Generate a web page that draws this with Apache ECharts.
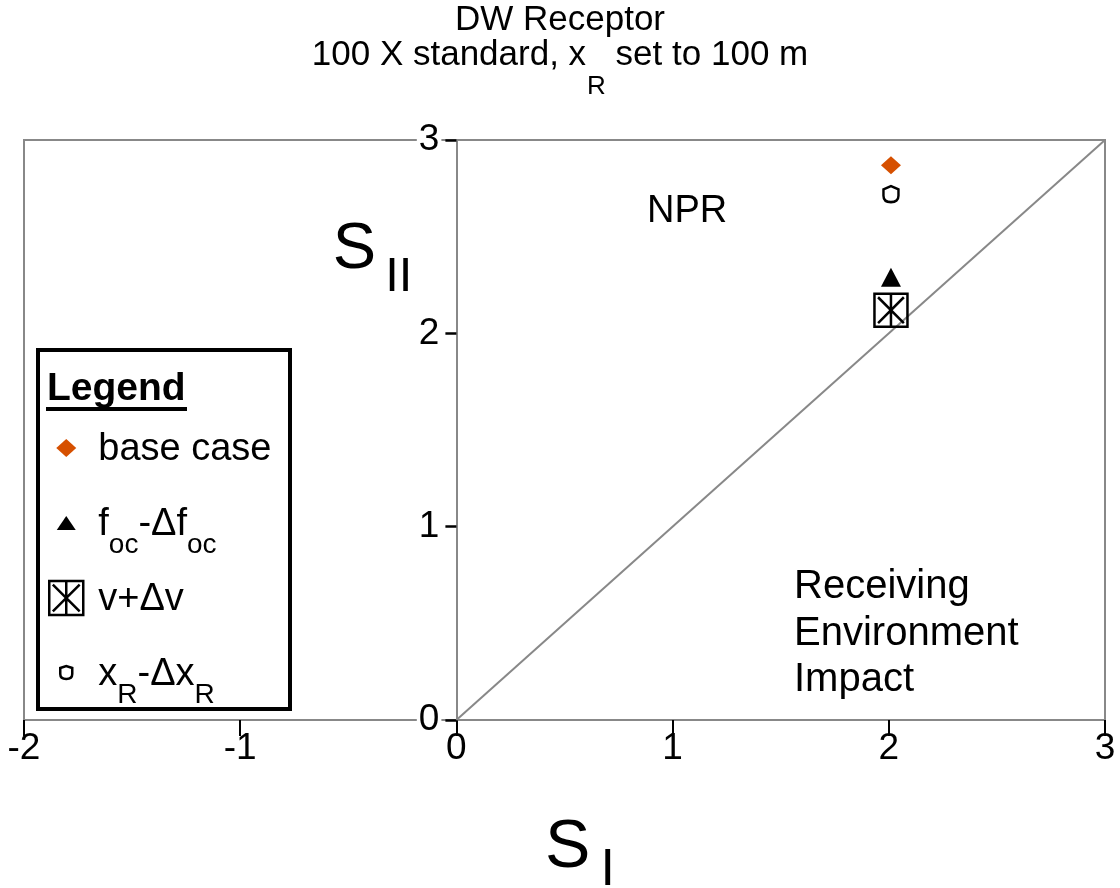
<!DOCTYPE html>
<html><head><meta charset="utf-8">
<script src="https://cdn.jsdelivr.net/npm/echarts@6/dist/echarts.min.js"></script>
<style>html,body{margin:0;padding:0;background:#fff}#chart{width:1120px;height:888px}</style>
</head><body><div id="chart"></div>
<script>
// ---- data ----
const xTicks = [-2, -1, 0, 1, 2, 3];
const yTicks = [0, 1, 2, 3];
const seriesNames = ['base case', 'foc-Δfoc', 'v+Δv', 'xR-ΔxR'];
const baseCase = [[2.01, 2.87]];
const focMinusDelta = [[2.01, 2.29]];
const vPlusDelta = [[2.01, 2.12]];
const xrMinusDelta = [[2.01, 2.72]];
const diagonal = [[0, 0], [3, 3]];

const FONT = 'Liberation Sans, Arial, sans-serif';
const GRAY = '#888888';
const ORANGE = '#D65000';

const GRID = {left: 24, right: 15, top: 140, bottom: 168};
const plotW = 1120 - GRID.left - GRID.right;
// pixel distance from the grid's left edge to x = 0 (y axis sits on x = 0)
const yAxisShift = plotW * (0 - xTicks[0]) / (xTicks[xTicks.length - 1] - xTicks[0]);

const boxStarPath = 'path://M0 0L32 0L32 32L0 32ZM3.5 3.5L28.5 28.5M28.5 3.5L3.5 28.5M16 0L16 32';
const shieldPath = 'path://M0 2L4.5 0L9 2L9 6Q9 10 4.5 10Q0 10 0 6Z';

const legendIcons = {
  'base case': 'path://M0 0M34 34M17 8L27 17L17 26L7 17Z',
  'foc-Δfoc': 'path://M0 0M34 34M17 10L26.5 24L7.5 24Z',
  'v+Δv': 'path://M0.5 0.5L33.5 0.5L33.5 33.5L0.5 33.5ZM4 4L30 30M30 4L4 30M17 0.5L17 33.5',
  'xR-ΔxR': 'path://M0 0M34 34M11 12L17 10L23 12L23 18Q23 23 17 23Q11 23 11 18Z'
};
const legendLabels = {
  'base case': '{p|base case}',
  'foc-Δfoc': '{p|f}{s|oc}{n|-Δf}{s|oc}',
  'v+Δv': '{p|v+Δv}',
  'xR-ΔxR': '{p|x}{r|R}{n|-Δx}{r|R}'
};

const chart = echarts.init(document.getElementById('chart'), null, {renderer: 'canvas'});
const option = {
  animation: false,
  backgroundColor: '#fff',
  title: {
    text: '{n|DW Receptor}\n{n|100 X standard, x}{s|R}{n| set to 100 m}',
    left: 'center', top: 3, padding: 0,
    textStyle: {
      fontFamily: FONT, fontWeight: 'normal', color: '#000',
      rich: {
        n: {fontFamily: FONT, fontWeight: 'normal', fontSize: 35, lineHeight: 35, verticalAlign: 'top', color: '#000'},
        s: {fontFamily: FONT, fontWeight: 'normal', fontSize: 26, lineHeight: 28, padding: [36, 0, 0, 1], verticalAlign: 'top', color: '#000'}
      }
    }
  },
  grid: {left: GRID.left, right: GRID.right, top: GRID.top, bottom: GRID.bottom, containLabel: false, outerBoundsMode: 'none',
    show: true, borderColor: GRAY, borderWidth: 2, backgroundColor: 'transparent'},
  xAxis: {
    type: 'value', min: xTicks[0], max: xTicks[xTicks.length - 1], interval: 1,
    splitLine: {show: false},
    axisLine: {show: true, onZero: true, lineStyle: {color: GRAY, width: 2}},
    axisTick: {show: true, length: 16, lineStyle: {color: '#000', width: 2}},
    axisLabel: {fontFamily: FONT, fontSize: 37, color: '#000', margin: 10},
    name: '{m|S}{i|I}', nameLocation: 'middle', nameGap: 94, nameMoveOverlap: false,
    nameTextStyle: {
      padding: [0, 0, 0, 31],
      rich: {
        m: {fontFamily: FONT, fontSize: 68, lineHeight: 70, verticalAlign: 'top', color: '#000'},
        i: {fontFamily: FONT, fontSize: 52, lineHeight: 70, padding: [31, 0, 0, 10], verticalAlign: 'top', color: '#000'}
      }
    }
  },
  yAxis: {
    type: 'value', min: yTicks[0], max: yTicks[yTicks.length - 1], interval: 1,
    position: 'left', offset: -yAxisShift,
    splitLine: {show: false},
    axisLine: {show: true, onZero: false, lineStyle: {color: GRAY, width: 2}},
    axisTick: {show: true, length: 11, lineStyle: {color: '#000', width: 2.5}},
    axisLabel: {fontFamily: FONT, fontSize: 37, color: '#000', margin: 15, backgroundColor: '#fff', padding: [11, 2, 0, 2]},
    name: '{m|S}{i|II}', nameLocation: 'middle', nameRotate: 0, nameGap: 44, nameMoveOverlap: false,
    nameTextStyle: {
      padding: [0, 0, 355, 0],
      rich: {
        m: {fontFamily: FONT, fontSize: 65, lineHeight: 70, verticalAlign: 'top', color: '#000'},
        i: {fontFamily: FONT, fontSize: 49, lineHeight: 70, padding: [35, 0, 0, 9], verticalAlign: 'top', color: '#000'}
      }
    }
  },
  legend: {
    orient: 'vertical', left: 48, top: 428, padding: 0, itemGap: 1,
    itemWidth: 34, itemHeight: 34, selectedMode: false,
    data: seriesNames.map(function (nm, i) {
      const st = i === 0 ? {color: ORANGE, borderWidth: 0, opacity: 1}
        : i === 1 ? {color: '#000', borderWidth: 0, opacity: 1}
        : {color: 'rgba(0,0,0,0)', borderColor: '#000', borderWidth: 2.5, opacity: 1};
      return {name: nm, icon: legendIcons[nm], itemStyle: st};
    }),
    formatter: function (nm) { return legendLabels[nm]; },
    textStyle: {
      color: '#000', fontFamily: FONT,
      rich: {
        p: {fontFamily: FONT, fontSize: 38, lineHeight: 40, padding: [3, 0, 33, 10], verticalAlign: 'top', color: '#000'},
        n: {fontFamily: FONT, fontSize: 38, lineHeight: 40, padding: [3, 0, 33, 0], verticalAlign: 'top', color: '#000'},
        s: {fontFamily: FONT, fontSize: 28, lineHeight: 40, padding: [28.5, 0, 0, 0], verticalAlign: 'top', color: '#000'},
        r: {fontFamily: FONT, fontSize: 28, lineHeight: 40, padding: [28, 0, 0, 0], verticalAlign: 'top', color: '#000'}
      }
    }
  },
  graphic: [
    {type: 'rect', z: 0, shape: {x: 38, y: 350, width: 252, height: 359}, style: {fill: '#fff', stroke: '#000', lineWidth: 4}},
    {type: 'text', z: 1, style: {text: 'Legend', x: 47, y: 389, fontFamily: FONT, fontSize: 39, fontWeight: 'bold', fill: '#000', verticalAlign: 'middle'}},
    {type: 'line', z: 1, shape: {x1: 46, y1: 409, x2: 187, y2: 409}, style: {stroke: '#000', lineWidth: 4}},
    {type: 'text', z: 1, style: {text: 'NPR', x: 647, y: 212, fontFamily: FONT, fontSize: 38, fill: '#000', verticalAlign: 'middle'}},
    {type: 'text', z: 1, style: {text: 'Receiving\nEnvironment\nImpact', x: 794, y: 564, lineHeight: 46.5, fontFamily: FONT, fontSize: 40, fill: '#000', verticalAlign: 'top'}}
  ],
  series: [
    {type: 'line', data: diagonal, symbol: 'none', silent: true, z: 2,
      lineStyle: {color: GRAY, width: 2}},
    {type: 'scatter', name: seriesNames[0], data: baseCase, symbol: 'diamond', symbolSize: [20, 18], z: 3,
      itemStyle: {color: ORANGE, opacity: 1}},
    {type: 'scatter', name: seriesNames[1], data: focMinusDelta, symbol: 'triangle', symbolSize: [20, 19], z: 3,
      itemStyle: {color: '#000', opacity: 1}},
    {type: 'scatter', name: seriesNames[2], data: vPlusDelta, symbol: boxStarPath, symbolSize: 33, z: 4,
      itemStyle: {color: 'rgba(0,0,0,0)', borderColor: '#000', borderWidth: 2.5, opacity: 1}},
    {type: 'scatter', name: seriesNames[3], data: xrMinusDelta, symbol: shieldPath, symbolSize: [15, 16], z: 3,
      itemStyle: {color: 'rgba(0,0,0,0)', borderColor: '#000', borderWidth: 2.5, opacity: 1}}
  ]
};
chart.setOption(option);
</script>
</body></html>
